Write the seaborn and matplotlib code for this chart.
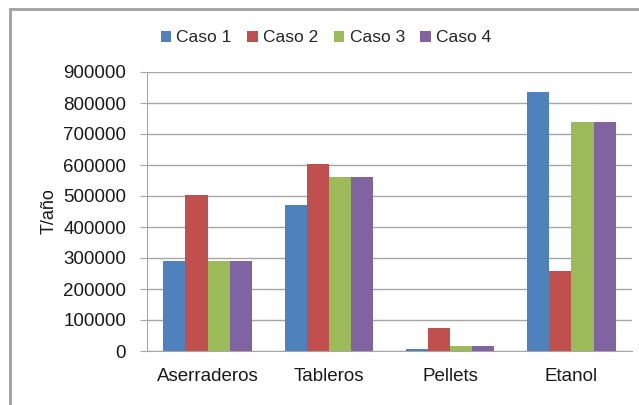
import pandas as pd
import matplotlib.pyplot as plt
import seaborn as sns
from matplotlib.patches import Rectangle

# Values (T/año)
categorias = ['Aserraderos', 'Tableros', 'Pellets', 'Etanol']
casos = ['Caso 1', 'Caso 2', 'Caso 3', 'Caso 4']
caso1 = [289000, 472000, 6000, 834000]
caso2 = [502000, 602000, 75000, 258000]
caso3 = [289000, 560000, 15000, 740000]
caso4 = [289000, 560000, 15000, 740000]
colores = ['#4F81BD', '#C0504D', '#9BBB59', '#8064A2']

df = pd.DataFrame({'Categoria': categorias * 4,
                   'Caso': [c for c in casos for _ in categorias],
                   'Valor': caso1 + caso2 + caso3 + caso4})

sns.set_style('white')
plt.rcParams['font.family'] = ['Liberation Sans', 'DejaVu Sans']

fig = plt.figure(figsize=(6.39, 4.05), dpi=100)
ax = fig.add_axes([147 / 639, 1 - 351 / 405, (632 - 147) / 639, (351 - 72) / 405])

sns.barplot(data=df, x='Categoria', y='Valor', hue='Caso', palette=colores,
            width=0.73, gap=0, saturation=1, linewidth=0, ax=ax, zorder=3)

# gridlines and axes in Excel style
ax.set_ylim(0, 900000)
ax.set_yticks(range(0, 900001, 100000))
ax.set_yticklabels([str(v) for v in range(0, 900001, 100000)])
ax.yaxis.grid(True, color='#a6a6a6', linewidth=1.0, zorder=0)
ax.set_axisbelow(True)
for s in ['top', 'right']:
    ax.spines[s].set_visible(False)
ax.spines['left'].set_color('#a6a6a6')
ax.spines['bottom'].set_color('#a6a6a6')
ax.set_xlim(-0.5, 3.5)
ax.set_xticks([-0.5, 0.5, 1.5, 2.5, 3.5], minor=True)
ax.tick_params(axis='x', which='major', length=0, pad=12, labelsize=13.5, labelcolor='#1a1a1a')
ax.tick_params(axis='x', which='minor', length=5, color='#a6a6a6', direction='out')
ax.tick_params(axis='y', length=5, color='#a6a6a6', direction='out', left=True, pad=10,
               labelsize=13.5, labelcolor='#1a1a1a')

ax.set_xlabel('')
ax.set_ylabel('T/año', fontsize=13, color='#1a1a1a', labelpad=4)

# legend on top
handles, labels = ax.get_legend_handles_labels()
ax.legend(handles, labels, loc='center', bbox_to_anchor=(326 / 639, 1 - 38 / 405),
          bbox_transform=fig.transFigure, ncol=4, frameon=False, fontsize=12.5,
          handlelength=0.6, handleheight=0.6, handletextpad=0.3, columnspacing=0.9)

# chart area border
fig.patches.append(Rectangle((10 / 639, -0.1), 1.2, 1 - 9 / 405 + 0.1,
                             transform=fig.transFigure, fill=False,
                             edgecolor='#a0a0a0', linewidth=2))

fig.savefig('out.png', dpi=100)
